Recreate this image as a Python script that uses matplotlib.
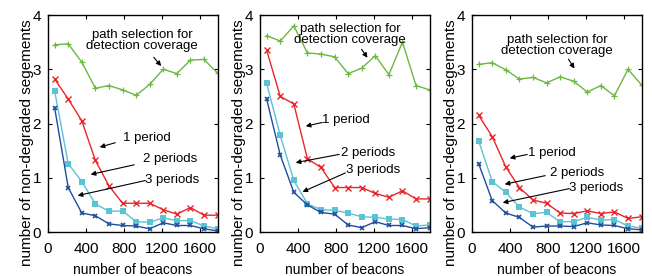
import matplotlib
matplotlib.use("Agg")
import matplotlib.pyplot as plt

# x positions of the samples (number of beacons)
beacons = [70, 213, 356, 499, 642, 785, 928, 1071, 1214, 1357, 1500, 1643, 1786]

# panel 1
p1_cover = [3.45, 3.47, 3.13, 2.65, 2.70, 2.62, 2.52, 2.72, 3.00, 2.92, 3.17, 3.18, 2.93]
p1_one = [2.82, 2.45, 2.05, 1.32, 0.85, 0.53, 0.53, 0.53, 0.41, 0.33, 0.45, 0.31, 0.31]
p1_two = [2.60, 1.26, 0.93, 0.52, 0.38, 0.39, 0.19, 0.18, 0.26, 0.21, 0.21, 0.11, 0.06]
p1_three = [2.29, 0.82, 0.35, 0.30, 0.15, 0.12, 0.11, 0.06, 0.17, 0.12, 0.12, 0.06, 0.02]

# panel 2
p2_cover = [3.62, 3.52, 3.80, 3.30, 3.28, 3.23, 2.92, 3.02, 3.25, 2.90, 3.50, 2.70, 2.62]
p2_one = [3.35, 2.50, 2.36, 1.35, 1.19, 0.82, 0.82, 0.82, 0.71, 0.64, 0.76, 0.61, 0.61]
p2_two = [2.74, 1.78, 0.95, 0.52, 0.41, 0.40, 0.35, 0.28, 0.27, 0.24, 0.23, 0.11, 0.13]
p2_three = [2.45, 1.42, 0.73, 0.50, 0.36, 0.33, 0.13, 0.08, 0.19, 0.12, 0.12, 0.06, 0.08]

# panel 3
p3_cover = [3.09, 3.12, 2.99, 2.82, 2.85, 2.75, 2.86, 2.78, 2.58, 2.70, 2.51, 3.00, 2.71]
p3_one = [2.15, 1.76, 1.20, 0.82, 0.59, 0.53, 0.35, 0.34, 0.39, 0.34, 0.37, 0.25, 0.28]
p3_two = [1.68, 0.93, 0.73, 0.46, 0.34, 0.36, 0.19, 0.19, 0.27, 0.22, 0.23, 0.11, 0.07]
p3_three = [1.26, 0.58, 0.35, 0.27, 0.09, 0.11, 0.11, 0.10, 0.17, 0.13, 0.12, 0.06, 0.04]

panels = [
    (p1_cover, p1_one, p1_two, p1_three),
    (p2_cover, p2_one, p2_two, p2_three),
    (p3_cover, p3_one, p3_two, p3_three),
]

# annotation label / arrow positions (data coords) per panel
cover_text = [(990, 3.53), (948, 3.64), (895, 3.44)]
cover_arrow = [((1095, 3.26), (1211, 3.02)), ((1053, 3.41), (1148, 3.17)), ((1000, 3.23), (1095, 2.97))]
period_labels = ["1 period", "2 periods", "3 periods"]
period_text = [
    [(1042, 1.73), (1285, 1.35), (1306, 0.96)],
    [(906, 2.06), (1137, 1.46), (1190, 1.14)],
    [(842, 1.46), (1106, 1.09), (1306, 0.81)],
]
period_arrow = [
    [((737, 1.66), (516, 1.55)), ((937, 1.25), (421, 1.05)), ((1053, 0.96), (284, 0.66))],
    [((684, 2.03), (453, 1.94)), ((863, 1.44), (347, 1.27)), ((926, 1.11), (421, 0.72))],
    [((611, 1.44), (369, 1.35)), ((800, 1.05), (316, 0.87)), ((1053, 0.81), (295, 0.53))],
]

GREEN = "#6cb842"
RED = "#e8262b"
CYAN = "#5cc3d5"
BLUE = "#1f4e9e"

plt.rcParams["font.family"] = ["Liberation Sans", "DejaVu Sans"]

fig = plt.figure(figsize=(6.52, 2.76), dpi=100)
lefts = [0.0736, 0.3988, 0.7239]

for i, (cover, one, two, three) in enumerate(panels):
    ax = fig.add_axes([lefts[i], 0.1594, 0.2607, 0.7862])
    ax.plot(beacons, cover, color=GREEN, lw=1.0, marker="+", ms=5, mew=0.9)
    ax.plot(beacons, one, color=RED, lw=1.0, marker="x", ms=4.5, mew=1.0)
    ax.plot(beacons, two, color=CYAN, lw=1.0, marker="s", ms=5, mew=0)
    ax.plot(beacons, three, color=BLUE, lw=1.0, marker="x", ms=3.5, mew=1.2)

    ax.set_xlim(0, 1790)
    ax.set_ylim(0, 4)
    ax.set_xticks([0, 400, 800, 1200, 1600])
    ax.set_yticks([0, 1, 2, 3, 4])
    ax.tick_params(direction="in", top=True, right=True, labelsize=11, length=3, width=0.8)
    ax.tick_params(axis="x", pad=7)
    ax.tick_params(axis="y", pad=5)
    for s in ax.spines.values():
        s.set_linewidth(1.0)

    ax.set_xlabel("number of beacons", fontsize=10, labelpad=5)
    ax.set_ylabel("number of non-degraded segements", fontsize=11)
    ax.yaxis.set_label_coords(-0.085, 0.41)

    tx, ty = cover_text[i]
    ax.text(tx, ty, "path selection for\ndetection coverage", ha="center", va="center",
            fontsize=9.5, linespacing=0.9)
    (ax0, ay0), (ax1, ay1) = cover_arrow[i]
    ax.annotate("", xy=(ax1, ay1), xytext=(ax0, ay0),
                arrowprops=dict(arrowstyle="-|>", color="k", lw=0.8, mutation_scale=7))

    for j in range(3):
        tx, ty = period_text[i][j]
        ax.text(tx, ty, period_labels[j], ha="center", va="center", fontsize=9.5)
        (ax0, ay0), (ax1, ay1) = period_arrow[i][j]
        ax.annotate("", xy=(ax1, ay1), xytext=(ax0, ay0),
                    arrowprops=dict(arrowstyle="-|>", color="k", lw=0.8, mutation_scale=7))

fig.savefig("out.png", dpi=100)
